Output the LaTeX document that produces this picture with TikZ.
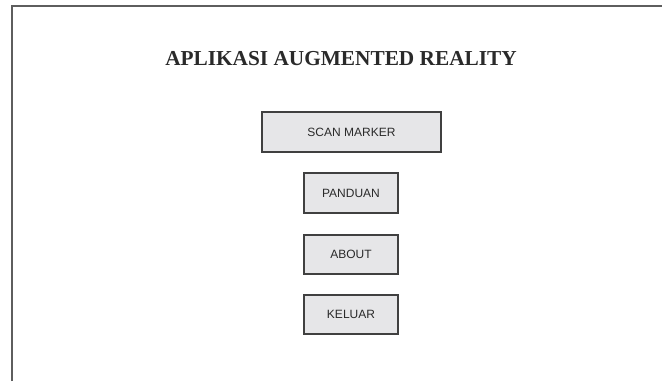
\documentclass[tikz,border=0pt]{standalone}
\usepackage{fontspec}
\setmainfont{Liberation Serif}
\newfontfamily\boxfont{Liberation Sans}
\definecolor{framegray}{HTML}{5E5E5E}
\definecolor{boxline}{HTML}{404040}
\definecolor{boxfill}{HTML}{E6E6E8}
\definecolor{txtdark}{HTML}{2A2A2A}
\tikzset{
  menubox/.style={draw=boxline, line width=1.6pt, fill=boxfill, inner sep=0pt,
    font=\boxfont\fontsize{12}{14}\selectfont, text=txtdark},
}
\begin{document}
\begin{tikzpicture}[x=1pt,y=-1pt]
\useasboundingbox (0,0) rectangle (662,381);
\coordinate (fb) at (11.5,381);
\coordinate (fc) at (11.5,6);
\coordinate (fr) at (662,6);
\draw[framegray, line width=2pt] (fb) -- (fc) -- (fr);
\node[font=\bfseries\fontsize{21.3}{24}\selectfont, text=txtdark] (title) at (341,59) {APLIKASI AUGMENTED REALITY};
\node[menubox, minimum width=179pt, minimum height=40pt] (scan) at (351.5,132) {SCAN MARKER};
\node[menubox, minimum width=94pt, minimum height=40pt] (panduan) at (351,193) {PANDUAN};
\node[menubox, minimum width=94pt, minimum height=39pt] (about) at (351,254.5) {ABOUT};
\node[menubox, minimum width=94pt, minimum height=39pt] (keluar) at (351,314.5) {KELUAR};
\end{tikzpicture}
\end{document}
